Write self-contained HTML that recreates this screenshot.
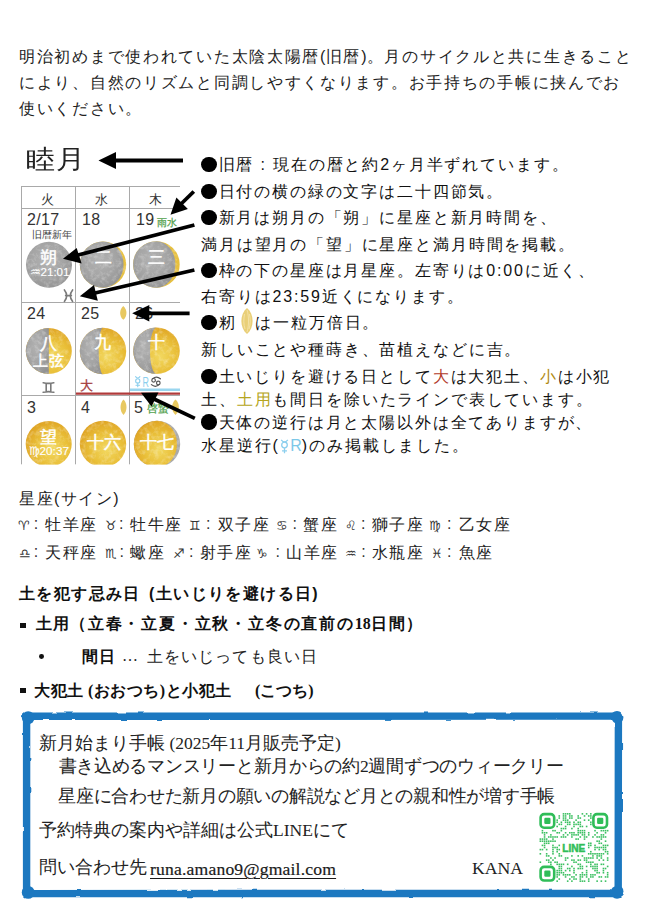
<!DOCTYPE html>
<html><head><meta charset="utf-8">
<style>
html,body{margin:0;padding:0;background:#fff;}
body{width:645px;height:917px;position:relative;overflow:hidden;font-family:"Liberation Sans",sans-serif;color:#222;}
.a{position:absolute;white-space:nowrap;}
.p{font-size:16px;letter-spacing:1.71px;color:#222;}
.r{font-size:16px;letter-spacing:1.85px;color:#111;}
.b{display:inline-block;width:15.5px;height:15.5px;border-radius:50%;background:#000;margin-right:2px;vertical-align:-2px;}
.cal{font-family:"Liberation Sans",sans-serif;}
.d{font-size:16px;letter-spacing:0.3px;color:#333;}
.mt{font-size:17px;color:#fff;-webkit-text-stroke:0.45px #fff;}
.zs{font-size:12.5px;color:#333;}
.zc{font-size:16px;color:#333;}
.zk{font-size:16px;letter-spacing:1.5px;color:#222;}
.hb{font-size:16px;font-weight:bold;color:#111;}
.sb{font-size:16px;font-weight:bold;color:#111;}
.serif{font-family:"Liberation Serif",serif;}
.z{font-family:"Liberation Sans",sans-serif;}
</style></head><body>

<!-- intro paragraph -->
<div class="a p" style="left:19px;top:47px;">明治初めまで使われていた太陰太陽暦<span style="letter-spacing:0.3px">(</span>旧暦<span style="letter-spacing:0.3px">)</span>。月のサイクルと共に生きること</div>
<div class="a p" style="left:19px;top:73px;">により、自然のリズムと同調しやすくなります。お手持ちの手帳に挟んでお</div>
<div class="a p" style="left:19px;top:99px;">使いください。</div>

<!-- calendar -->
<div class="a" style="left:26px;top:142px;font-size:26px;color:#222;transform:scaleX(1.12);transform-origin:0 0;">睦</div><div class="a" style="left:55.5px;top:142px;font-size:26px;color:#222;transform:scaleX(1.12);transform-origin:0 0;">月</div>

<svg class="a" style="left:0;top:0" width="645" height="917" viewBox="0 0 645 917">
  <defs>
    <radialGradient id="gm" cx="45%" cy="40%" r="65%">
      <stop offset="0" stop-color="#b2b2b2"/><stop offset="0.6" stop-color="#a3a3a3"/><stop offset="1" stop-color="#929292"/>
    </radialGradient>
    <radialGradient id="ym" cx="58%" cy="62%" r="70%">
      <stop offset="0" stop-color="#f2d860"/><stop offset="0.5" stop-color="#e9bf38"/><stop offset="1" stop-color="#dd9e20"/>
    </radialGradient>
    <filter id="tx" x="0" y="0" width="1" height="1">
      <feTurbulence type="fractalNoise" baseFrequency="0.22" numOctaves="3" seed="7" result="n"/>
      <feColorMatrix in="n" type="matrix" values="0 0 0 0 1  0 0 0 0 1  0 0 0 0 1  1.4 0 0 0 -0.62" result="w"/>
      <feComposite in="w" in2="SourceGraphic" operator="in"/>
    </filter>
    <clipPath id="call">
      <circle cx="49" cy="264.8" r="23"/><circle cx="103" cy="264.6" r="23.2"/><circle cx="156.4" cy="264.5" r="23.3"/>
      <circle cx="48.8" cy="351" r="23"/><circle cx="103" cy="351" r="23.2"/><circle cx="156.5" cy="350.8" r="23.3"/>
      <circle cx="48.7" cy="444" r="23"/><circle cx="103" cy="444" r="23.2"/><circle cx="157" cy="444" r="23.2"/>
    </clipPath>
  </defs>
  <!-- grid -->
  <g stroke="#a9a9a9" stroke-width="1" fill="none">
    <line x1="21.5" y1="186" x2="21.5" y2="464.5"/>
    <line x1="75.5" y1="186" x2="75.5" y2="464.5"/>
    <line x1="129.5" y1="186" x2="129.5" y2="464.5"/>
    <line x1="21" y1="186.5" x2="180" y2="186.5"/>
    <line x1="21" y1="208.5" x2="180" y2="208.5"/>
    <line x1="21" y1="302.5" x2="180" y2="302.5"/>
    <line x1="21" y1="395.5" x2="180" y2="395.5"/>
  </g>
  <!-- row 1 moons -->
  <circle cx="49" cy="264.8" r="23" fill="url(#gm)"/>
  <circle cx="103" cy="264.6" r="23.2" fill="#e6bf3e"/>
  <path d="M103 241.4 A23.2 23.2 0 0 0 103 287.8 A20.6 23.2 0 0 0 103 241.4 Z" fill="url(#gm)"/>
  <circle cx="156.4" cy="264.5" r="23.3" fill="#e6bf3e"/>
  <path d="M156.4 241.2 A23.3 23.3 0 0 0 156.4 287.8 A19 23.3 0 0 0 156.4 241.2 Z" fill="url(#gm)"/>
  <!-- row 2 moons -->
  <circle cx="48.8" cy="351" r="23" fill="url(#ym)"/>
  <path d="M48.8 328 A23 23 0 0 0 48.8 374 Z" fill="url(#gm)"/>
  <circle cx="103" cy="351" r="23.2" fill="url(#ym)"/>
  <path d="M103 327.8 A23.2 23.2 0 0 0 103 374.2 A4.3 23.2 0 0 1 103 327.8 Z" fill="url(#gm)"/>
  <circle cx="156.5" cy="350.8" r="23.3" fill="url(#ym)"/>
  <path d="M156.5 327.5 A23.3 23.3 0 0 0 156.5 374.1 A6.5 23.3 0 0 1 156.5 327.5 Z" fill="url(#gm)"/>
  <!-- row 3 moons -->
  <circle cx="48.7" cy="444" r="23" fill="url(#ym)"/>
  <circle cx="103" cy="444" r="23.2" fill="url(#ym)"/>
  <circle cx="157" cy="444" r="23.2" fill="#a9a9a9"/>
  <path d="M157 420.8 A23.2 23.2 0 0 0 157 467.2 A20 23.2 0 0 0 157 420.8 Z" fill="url(#ym)"/>
  <!-- texture -->
  <g filter="url(#tx)" opacity="0.5">
    <rect x="24" y="240" width="160" height="230" fill="#fff" clip-path="url(#call)"/>
  </g>
  <rect x="20" y="464.6" width="170" height="30" fill="#fff"/>
  <!-- seeds -->
  <path d="M123.3,305.9 C127.5,309.5 127.5,316.2 123.3,319.8 C119.1,316.2 119.1,309.5 123.3,305.9 Z" fill="#e8c860"/>
  <path d="M123.5,399.6 C127.5,403.5 127.5,411.1 123.5,415 C119.5,411.1 119.5,403.5 123.5,399.6 Z" fill="#e8c860"/>
  <path d="M175.5,399.6 C180,403.5 180,411.1 175.5,415 C171,411.1 171,403.5 175.5,399.6 Z" fill="#e8c860"/>
  <path d="M247,308 C254.5,314 254.5,328 247,334 C239.5,328 239.5,314 247,308 Z" fill="#e9cf78"/><path d="M247,310 C249,316 249,326 247,332 M244.5,314 C243.5,320 243.5,324 245,329 M249.5,314 C250.5,320 250.5,324 249,329" stroke="#f6e6b0" stroke-width="0.8" fill="none"/>

  <!-- small glyphs -->
  <g fill="none" stroke-linecap="round">
    <path d="M64.4 289.9 Q68.9 295.6 64.4 301.4 M72.6 289.9 Q68.1 295.6 72.6 301.4 M65.6 295.6 H71.4" stroke="#7a7a7a" stroke-width="1.6"/>
    <path d="M43.2 382.8 Q48.5 384 53.8 382.8 M43.2 392.2 Q48.5 391 53.8 392.2 M46.2 383.6 V391.4 M50.8 383.6 V391.4" stroke="#7a7a7a" stroke-width="1.6"/>
    <path d="M135.6 376.6 Q137.75 379.4 139.9 376.6 M137.75 383 V386.8 M136 385.2 H139.5" stroke="#8ccfee" stroke-width="1.1"/>
    <circle cx="137.75" cy="380.9" r="2.1" stroke="#8ccfee" stroke-width="1.1"/>
    <path d="M152.6 378.6 Q156.6 375.4 160.4 378.8 M151.4 384.6 Q155.4 388 159.4 384.4" stroke="#555" stroke-width="1.2"/>
    <circle cx="153.6" cy="380.3" r="1.8" stroke="#555" stroke-width="1.2"/>
    <circle cx="158.3" cy="383" r="1.8" stroke="#555" stroke-width="1.2"/>
  </g>
  <text x="142.4" y="386.8" font-family="Liberation Sans" font-size="14.5" fill="#8ccfee" textLength="6.4" lengthAdjust="spacingAndGlyphs">R</text>
  <text x="80.4" y="390" font-size="12.5" fill="#a33a3a" stroke="#a33a3a" stroke-width="0.3">大</text>
  <!-- lines -->
  <line x1="130" y1="389.8" x2="180" y2="389.8" stroke="#9ad6ef" stroke-width="2.4"/>
  <line x1="76" y1="393.7" x2="180" y2="393.7" stroke="#b03a3a" stroke-width="2.2"/>
</svg>

<!-- calendar text -->
<div class="a" style="left:41px;top:191px;font-size:13px;color:#333;">火</div>
<div class="a" style="left:95px;top:191px;font-size:13px;color:#333;">水</div>
<div class="a" style="left:149px;top:191px;font-size:13px;color:#333;">木</div>
<div class="a d" style="left:27px;top:211px;">2/17</div>
<div class="a d" style="left:82px;top:211px;">18</div>
<div class="a d" style="left:136px;top:211px;">19</div>
<div class="a" style="left:157px;top:215.5px;font-size:10px;letter-spacing:0.3px;color:#4f9e4a;-webkit-text-stroke:0.25px #4f9e4a;">雨水</div>
<div class="a" style="left:32px;top:229px;font-size:9.5px;color:#444;">旧暦新年</div>
<div class="a mt" style="left:40px;top:246px;">朔</div>
<div class="a" style="left:29.5px;top:264.5px;font-size:11.6px;color:#fff;-webkit-text-stroke:0.1px #fff;">♒︎21:01</div>
<div class="a mt" style="left:95px;top:245.5px;">二</div>
<div class="a mt" style="left:148px;top:245.5px;">三</div>


<div class="a d" style="left:27px;top:305px;">24</div>
<div class="a d" style="left:81px;top:305px;">25</div>
<div class="a d" style="left:135px;top:305px;">26</div>
<div class="a mt" style="left:40px;top:331.5px;">八</div>
<div class="a mt" style="left:33px;top:352px;font-size:14.5px;letter-spacing:0.6px;">上弦</div>
<div class="a mt" style="left:94px;top:331px;">九</div>
<div class="a mt" style="left:148px;top:331px;">十</div>





<div class="a d" style="left:27px;top:399px;">3</div>
<div class="a d" style="left:81px;top:399px;">4</div>
<div class="a d" style="left:134px;top:399px;">5</div>
<div class="a" style="left:147px;top:402px;font-size:10.5px;color:#4f9e4a;-webkit-text-stroke:0.25px #4f9e4a;">啓蟄</div>
<div class="a mt" style="left:40px;top:425.5px;">望</div>
<div class="a" style="left:28.5px;top:443.5px;font-size:11.8px;color:#fff;-webkit-text-stroke:0.1px #fff;">♍︎20:37</div>
<div class="a mt" style="left:87px;top:430.5px;">十六</div>
<div class="a mt" style="left:140px;top:430.5px;">十七</div>

<!-- arrows -->
<svg class="a" style="left:0;top:0" width="645" height="917" viewBox="0 0 645 917">
  <g fill="#000" stroke="#000">
    <line x1="183" y1="160.5" x2="114" y2="160.5" stroke-width="3.8"/>
    <polygon points="98.5,160.5 116,152 116,169" stroke="none"/>
    <line x1="193.8" y1="191.5" x2="180" y2="205" stroke-width="3.8"/>
    <polygon points="170.5,214.7 176.4,197.4 187.9,209.1" stroke="none"/>
    <line x1="194.4" y1="225" x2="78" y2="255" stroke-width="3.8"/>
    <polygon points="63,258.7 76.7,248 81.6,263.5" stroke="none"/>
    <line x1="194.4" y1="270" x2="95" y2="293" stroke-width="3.8"/>
    <polygon points="79.8,296.3 94,285 97.8,300.7" stroke="none"/>
    <line x1="189.6" y1="313.3" x2="148" y2="313.3" stroke-width="3.8"/>
    <polygon points="132.2,313.3 149.3,305 149.3,321.4" stroke="none"/>
    <line x1="194.8" y1="418.4" x2="153" y2="398.5" stroke-width="3.8"/>
    <polygon points="141,392.8 158.5,392.5 151.5,406.5" stroke="none"/>
  </g>
</svg>

<!-- right text -->
<div class="a r" style="left:201px;top:155px;"><i class="b"></i>旧暦 : 現在の暦と約2ヶ月半ずれています。</div>
<div class="a r" style="left:201px;top:182px;"><i class="b"></i>日付の横の緑の文字は二十四節気。</div>
<div class="a r" style="left:201px;top:208px;"><i class="b"></i>新月は朔月の「朔」に星座と新月時間を、</div>
<div class="a r" style="left:201px;top:234.5px;">満月は望月の「望」に星座と満月時間を掲載。</div>
<div class="a r" style="left:201px;top:261px;"><i class="b"></i>枠の下の星座は月星座。左寄りは0:00に近く、</div>
<div class="a r" style="left:201px;top:287.3px;">右寄りは23:59近くになります。</div>
<div class="a r" style="left:201px;top:313.3px;"><i class="b"></i>籾<span style="display:inline-block;width:19px"></span>は一粒万倍日。</div>
<div class="a r" style="left:201px;top:340px;">新しいことや種蒔き、苗植えなどに吉。</div>
<div class="a r" style="left:201px;top:367.3px;"><i class="b"></i>土いじりを避ける日として<span style="color:#b23a2a">大</span>は大犯土、<span style="color:#b08a10">小</span>は小犯</div>
<div class="a r" style="left:201px;top:389.8px;">土、<span style="color:#b5a520">土用</span>も間日を除いたラインで表しています。</div>
<div class="a r" style="left:201px;top:412.8px;"><i class="b"></i>天体の逆行は月と太陽以外は全てありますが、</div>
<div class="a r" style="left:201px;top:435.7px;">水星逆行<span style="letter-spacing:0">(<svg width="11" height="15" viewBox="0 0 11 15" style="vertical-align:-3.5px;margin:0 0.5px 0 1px"><g fill="none" stroke="#8ccfee" stroke-width="1.3"><path d="M2.2 0.8 Q5.5 5 8.8 0.8 M5.5 9 V14.2 M3 11.8 H8"/><circle cx="5.5" cy="6" r="2.8"/></g></svg><span style="color:#7cc8e8">R</span>)</span><span style="margin-left:2px">のみ掲載しました。</span></div>

<!-- zodiac -->
<div class="a" style="left:19px;top:489px;font-size:16px;letter-spacing:1.5px;color:#222;">星座(サイン)</div>
<div class="a zs" style="left:18.1px;top:518px;">♈&#xFE0E;</div><div class="a zc" style="left:33.7px;top:515px;">:</div><div class="a zk" style="left:45.3px;top:515px;">牡羊座</div>
<div class="a zs" style="left:104.8px;top:518px;">♉&#xFE0E;</div><div class="a zc" style="left:119.0px;top:515px;">:</div><div class="a zk" style="left:130px;top:515px;">牡牛座</div>
<div class="a zs" style="left:189.4px;top:518px;">♊&#xFE0E;</div><div class="a zc" style="left:206.0px;top:515px;">:</div><div class="a zk" style="left:217.6px;top:515px;">双子座</div>
<div class="a zs" style="left:276.1px;top:518px;">♋&#xFE0E;</div><div class="a zc" style="left:292.4px;top:515px;">:</div><div class="a zk" style="left:303.3px;top:515px;">蟹座</div>
<div class="a zs" style="left:344.7px;top:518px;">♌&#xFE0E;</div><div class="a zc" style="left:360.9px;top:515px;">:</div><div class="a zk" style="left:371.9px;top:515px;">獅子座</div>
<div class="a zs" style="left:429.3px;top:518px;">♍&#xFE0E;</div><div class="a zc" style="left:447.0px;top:515px;">:</div><div class="a zk" style="left:458.5px;top:515px;">乙女座</div>
<div class="a zs" style="left:19.1px;top:546px;">♎&#xFE0E;</div><div class="a zc" style="left:33.7px;top:543px;">:</div><div class="a zk" style="left:45.3px;top:543px;">天秤座</div>
<div class="a zs" style="left:104.8px;top:546px;">♏&#xFE0E;</div><div class="a zc" style="left:119.4px;top:543px;">:</div><div class="a zk" style="left:130px;top:543px;">蠍座</div>
<div class="a zs" style="left:173.3px;top:546px;">♐&#xFE0E;</div><div class="a zc" style="left:188.9px;top:543px;">:</div><div class="a zk" style="left:199.5px;top:543px;">射手座</div>
<div class="a zs" style="left:255.9px;top:546px;">♑&#xFE0E;</div><div class="a zc" style="left:275.6px;top:543px;">:</div><div class="a zk" style="left:286.2px;top:543px;">山羊座</div>
<div class="a zs" style="left:344.7px;top:546px;">♒&#xFE0E;</div><div class="a zc" style="left:361.3px;top:543px;">:</div><div class="a zk" style="left:371.9px;top:543px;">水瓶座</div>
<div class="a zs" style="left:431.3px;top:546px;">♓&#xFE0E;</div><div class="a zc" style="left:447.0px;top:543px;">:</div><div class="a zk" style="left:458.5px;top:543px;">魚座</div>

<!-- rules -->
<div class="a hb" style="left:19px;top:584px;letter-spacing:1.4px;">土を犯す忌み日</div>
<div class="a hb" style="left:149px;top:584px;letter-spacing:1.4px;">(土いじりを避ける日)</div>
<div class="a" style="left:20px;top:622.5px;width:5.5px;height:5.5px;background:#111;"></div>
<div class="a serif sb" style="left:36px;top:614px;letter-spacing:0.5px;">土用</div>
<div class="a serif sb" style="left:70px;top:614px;letter-spacing:1.8px;">（立春・立夏・立秋・立冬の直前の<span style="letter-spacing:0">18</span>日間）</div>
<div class="a" style="left:39.4px;top:654.4px;width:4.8px;height:4.8px;border-radius:50%;background:#111;"></div>
<div class="a serif sb" style="left:82px;top:647px;letter-spacing:0.5px;">間日</div>
<div class="a serif" style="left:122px;top:647px;font-size:16px;color:#222;letter-spacing:0.5px;">…</div>
<div class="a serif" style="left:147px;top:647px;font-size:16px;color:#222;letter-spacing:1.1px;">土をいじっても良い日</div>
<div class="a" style="left:20px;top:687.5px;width:5.5px;height:5.5px;background:#111;"></div>
<div class="a serif sb" style="left:34px;top:681px;letter-spacing:0.5px;">大犯土 (おおつち)と小犯土</div>
<div class="a serif sb" style="left:255px;top:681px;">(こつち)</div>

<!-- box -->
<svg class="a" style="left:0;top:0" width="645" height="917" viewBox="0 0 645 917">
  <defs>
    <filter id="rough" x="-5%" y="-5%" width="110%" height="110%">
      <feTurbulence type="fractalNoise" baseFrequency="0.06" numOctaves="2" seed="4" result="t"/>
      <feDisplacementMap in="SourceGraphic" in2="t" scale="2.4" xChannelSelector="R" yChannelSelector="G"/>
    </filter>
  </defs>
  <g filter="url(#rough)" fill="#1b78c0">
    <path d="M26.6 716.3 L618.4 716.1 L618.2 893.5 L26.6 893.6 Z" fill="none" stroke="#1b78c0" stroke-width="7.4" stroke-linejoin="round"/>
    <circle cx="28.2" cy="717.6" r="6.4"/><circle cx="617" cy="717.4" r="6.4"/><circle cx="617" cy="892.3" r="6.4"/><circle cx="28.2" cy="892.4" r="6.4"/>
  </g>
</svg>
<div class="a serif" style="left:39px;top:731px;font-size:17.5px;color:#222;">新月始まり手帳 (2025年11月販売予定)</div>
<div class="a serif" style="left:58.5px;top:754px;font-size:17.5px;letter-spacing:-0.27px;color:#222;">書き込めるマンスリーと新月からの約2週間ずつのウィークリー</div>
<div class="a serif" style="left:58px;top:784px;font-size:17.5px;letter-spacing:-0.25px;color:#222;">星座に合わせた新月の願いの解説など月との親和性が増す手帳</div>
<div class="a serif" style="left:39px;top:818px;font-size:17.5px;color:#222;">予約特典の案内や詳細は公式LINEにて</div>
<div class="a serif" style="left:39px;top:855px;font-size:17.5px;color:#222;">問い合わせ先</div><div class="a serif" style="left:150px;top:858.5px;font-size:17.6px;letter-spacing:0.18px;color:#1a1a1a;text-decoration:underline;text-decoration-thickness:1.4px;text-underline-offset:2.5px;-webkit-text-stroke:0.2px #1a1a1a;">runa.amano9@gmail.com</div>
<div class="a serif" style="left:472px;top:857.5px;font-size:17.7px;color:#222;">KANA</div>
<!-- QR placeholder -->
<svg class="a" style="left:0;top:0" width="645" height="917" viewBox="0 0 645 917">
  <g fill="#3cc062"><rect x="562.68" y="813.05" width="1.6" height="1.6"/><rect x="564.79" y="813.05" width="1.6" height="1.6"/><rect x="566.89" y="813.05" width="1.6" height="1.6"/><rect x="568.99" y="813.05" width="1.6" height="1.6"/><rect x="581.61" y="813.05" width="1.6" height="1.6"/><rect x="585.82" y="813.05" width="1.6" height="1.6"/><rect x="590.02" y="813.05" width="1.6" height="1.6"/><rect x="558.48" y="815.15" width="1.6" height="1.6"/><rect x="562.68" y="815.15" width="1.6" height="1.6"/><rect x="564.79" y="815.15" width="1.6" height="1.6"/><rect x="568.99" y="815.15" width="1.6" height="1.6"/><rect x="571.10" y="815.15" width="1.6" height="1.6"/><rect x="577.41" y="815.15" width="1.6" height="1.6"/><rect x="583.72" y="815.15" width="1.6" height="1.6"/><rect x="587.92" y="815.15" width="1.6" height="1.6"/><rect x="590.02" y="815.15" width="1.6" height="1.6"/><rect x="558.48" y="817.26" width="1.6" height="1.6"/><rect x="562.68" y="817.26" width="1.6" height="1.6"/><rect x="564.79" y="817.26" width="1.6" height="1.6"/><rect x="568.99" y="817.26" width="1.6" height="1.6"/><rect x="571.10" y="817.26" width="1.6" height="1.6"/><rect x="577.41" y="817.26" width="1.6" height="1.6"/><rect x="579.51" y="817.26" width="1.6" height="1.6"/><rect x="590.02" y="817.26" width="1.6" height="1.6"/><rect x="556.38" y="819.36" width="1.6" height="1.6"/><rect x="562.68" y="819.36" width="1.6" height="1.6"/><rect x="564.79" y="819.36" width="1.6" height="1.6"/><rect x="566.89" y="819.36" width="1.6" height="1.6"/><rect x="575.30" y="819.36" width="1.6" height="1.6"/><rect x="583.72" y="819.36" width="1.6" height="1.6"/><rect x="587.92" y="819.36" width="1.6" height="1.6"/><rect x="556.38" y="821.46" width="1.6" height="1.6"/><rect x="560.58" y="821.46" width="1.6" height="1.6"/><rect x="564.79" y="821.46" width="1.6" height="1.6"/><rect x="566.89" y="821.46" width="1.6" height="1.6"/><rect x="568.99" y="821.46" width="1.6" height="1.6"/><rect x="573.20" y="821.46" width="1.6" height="1.6"/><rect x="577.41" y="821.46" width="1.6" height="1.6"/><rect x="579.51" y="821.46" width="1.6" height="1.6"/><rect x="590.02" y="821.46" width="1.6" height="1.6"/><rect x="558.48" y="823.57" width="1.6" height="1.6"/><rect x="560.58" y="823.57" width="1.6" height="1.6"/><rect x="566.89" y="823.57" width="1.6" height="1.6"/><rect x="568.99" y="823.57" width="1.6" height="1.6"/><rect x="573.20" y="823.57" width="1.6" height="1.6"/><rect x="575.30" y="823.57" width="1.6" height="1.6"/><rect x="577.41" y="823.57" width="1.6" height="1.6"/><rect x="579.51" y="823.57" width="1.6" height="1.6"/><rect x="590.02" y="823.57" width="1.6" height="1.6"/><rect x="556.38" y="825.67" width="1.6" height="1.6"/><rect x="564.79" y="825.67" width="1.6" height="1.6"/><rect x="573.20" y="825.67" width="1.6" height="1.6"/><rect x="579.51" y="825.67" width="1.6" height="1.6"/><rect x="581.61" y="825.67" width="1.6" height="1.6"/><rect x="585.82" y="825.67" width="1.6" height="1.6"/><rect x="560.58" y="827.77" width="1.6" height="1.6"/><rect x="562.68" y="827.77" width="1.6" height="1.6"/><rect x="564.79" y="827.77" width="1.6" height="1.6"/><rect x="571.10" y="827.77" width="1.6" height="1.6"/><rect x="577.41" y="827.77" width="1.6" height="1.6"/><rect x="541.65" y="829.88" width="1.6" height="1.6"/><rect x="552.17" y="829.88" width="1.6" height="1.6"/><rect x="554.27" y="829.88" width="1.6" height="1.6"/><rect x="560.58" y="829.88" width="1.6" height="1.6"/><rect x="577.41" y="829.88" width="1.6" height="1.6"/><rect x="579.51" y="829.88" width="1.6" height="1.6"/><rect x="581.61" y="829.88" width="1.6" height="1.6"/><rect x="583.72" y="829.88" width="1.6" height="1.6"/><rect x="594.23" y="829.88" width="1.6" height="1.6"/><rect x="600.54" y="829.88" width="1.6" height="1.6"/><rect x="602.64" y="829.88" width="1.6" height="1.6"/><rect x="604.75" y="829.88" width="1.6" height="1.6"/><rect x="606.85" y="829.88" width="1.6" height="1.6"/><rect x="541.65" y="831.98" width="1.6" height="1.6"/><rect x="543.76" y="831.98" width="1.6" height="1.6"/><rect x="545.86" y="831.98" width="1.6" height="1.6"/><rect x="556.38" y="831.98" width="1.6" height="1.6"/><rect x="558.48" y="831.98" width="1.6" height="1.6"/><rect x="564.79" y="831.98" width="1.6" height="1.6"/><rect x="568.99" y="831.98" width="1.6" height="1.6"/><rect x="571.10" y="831.98" width="1.6" height="1.6"/><rect x="573.20" y="831.98" width="1.6" height="1.6"/><rect x="577.41" y="831.98" width="1.6" height="1.6"/><rect x="579.51" y="831.98" width="1.6" height="1.6"/><rect x="581.61" y="831.98" width="1.6" height="1.6"/><rect x="583.72" y="831.98" width="1.6" height="1.6"/><rect x="587.92" y="831.98" width="1.6" height="1.6"/><rect x="596.33" y="831.98" width="1.6" height="1.6"/><rect x="604.75" y="831.98" width="1.6" height="1.6"/><rect x="543.76" y="834.08" width="1.6" height="1.6"/><rect x="550.07" y="834.08" width="1.6" height="1.6"/><rect x="562.68" y="834.08" width="1.6" height="1.6"/><rect x="566.89" y="834.08" width="1.6" height="1.6"/><rect x="571.10" y="834.08" width="1.6" height="1.6"/><rect x="573.20" y="834.08" width="1.6" height="1.6"/><rect x="575.30" y="834.08" width="1.6" height="1.6"/><rect x="577.41" y="834.08" width="1.6" height="1.6"/><rect x="581.61" y="834.08" width="1.6" height="1.6"/><rect x="583.72" y="834.08" width="1.6" height="1.6"/><rect x="587.92" y="834.08" width="1.6" height="1.6"/><rect x="594.23" y="834.08" width="1.6" height="1.6"/><rect x="600.54" y="834.08" width="1.6" height="1.6"/><rect x="602.64" y="834.08" width="1.6" height="1.6"/><rect x="543.76" y="836.18" width="1.6" height="1.6"/><rect x="547.96" y="836.18" width="1.6" height="1.6"/><rect x="550.07" y="836.18" width="1.6" height="1.6"/><rect x="552.17" y="836.18" width="1.6" height="1.6"/><rect x="554.27" y="836.18" width="1.6" height="1.6"/><rect x="556.38" y="836.18" width="1.6" height="1.6"/><rect x="560.58" y="836.18" width="1.6" height="1.6"/><rect x="562.68" y="836.18" width="1.6" height="1.6"/><rect x="564.79" y="836.18" width="1.6" height="1.6"/><rect x="571.10" y="836.18" width="1.6" height="1.6"/><rect x="579.51" y="836.18" width="1.6" height="1.6"/><rect x="583.72" y="836.18" width="1.6" height="1.6"/><rect x="585.82" y="836.18" width="1.6" height="1.6"/><rect x="592.13" y="836.18" width="1.6" height="1.6"/><rect x="596.33" y="836.18" width="1.6" height="1.6"/><rect x="598.44" y="836.18" width="1.6" height="1.6"/><rect x="600.54" y="836.18" width="1.6" height="1.6"/><rect x="602.64" y="836.18" width="1.6" height="1.6"/><rect x="604.75" y="836.18" width="1.6" height="1.6"/><rect x="539.55" y="838.29" width="1.6" height="1.6"/><rect x="541.65" y="838.29" width="1.6" height="1.6"/><rect x="543.76" y="838.29" width="1.6" height="1.6"/><rect x="545.86" y="838.29" width="1.6" height="1.6"/><rect x="552.17" y="838.29" width="1.6" height="1.6"/><rect x="575.30" y="838.29" width="1.6" height="1.6"/><rect x="577.41" y="838.29" width="1.6" height="1.6"/><rect x="583.72" y="838.29" width="1.6" height="1.6"/><rect x="600.54" y="838.29" width="1.6" height="1.6"/><rect x="539.55" y="840.39" width="1.6" height="1.6"/><rect x="541.65" y="840.39" width="1.6" height="1.6"/><rect x="543.76" y="840.39" width="1.6" height="1.6"/><rect x="545.86" y="840.39" width="1.6" height="1.6"/><rect x="547.96" y="840.39" width="1.6" height="1.6"/><rect x="550.07" y="840.39" width="1.6" height="1.6"/><rect x="552.17" y="840.39" width="1.6" height="1.6"/><rect x="554.27" y="840.39" width="1.6" height="1.6"/><rect x="596.33" y="840.39" width="1.6" height="1.6"/><rect x="598.44" y="840.39" width="1.6" height="1.6"/><rect x="604.75" y="840.39" width="1.6" height="1.6"/><rect x="543.76" y="842.49" width="1.6" height="1.6"/><rect x="545.86" y="842.49" width="1.6" height="1.6"/><rect x="547.96" y="842.49" width="1.6" height="1.6"/><rect x="587.92" y="842.49" width="1.6" height="1.6"/><rect x="590.02" y="842.49" width="1.6" height="1.6"/><rect x="598.44" y="842.49" width="1.6" height="1.6"/><rect x="600.54" y="842.49" width="1.6" height="1.6"/><rect x="541.65" y="844.60" width="1.6" height="1.6"/><rect x="543.76" y="844.60" width="1.6" height="1.6"/><rect x="552.17" y="844.60" width="1.6" height="1.6"/><rect x="558.48" y="844.60" width="1.6" height="1.6"/><rect x="587.92" y="844.60" width="1.6" height="1.6"/><rect x="590.02" y="844.60" width="1.6" height="1.6"/><rect x="594.23" y="844.60" width="1.6" height="1.6"/><rect x="602.64" y="844.60" width="1.6" height="1.6"/><rect x="604.75" y="844.60" width="1.6" height="1.6"/><rect x="606.85" y="844.60" width="1.6" height="1.6"/><rect x="543.76" y="846.70" width="1.6" height="1.6"/><rect x="552.17" y="846.70" width="1.6" height="1.6"/><rect x="554.27" y="846.70" width="1.6" height="1.6"/><rect x="556.38" y="846.70" width="1.6" height="1.6"/><rect x="587.92" y="846.70" width="1.6" height="1.6"/><rect x="594.23" y="846.70" width="1.6" height="1.6"/><rect x="596.33" y="846.70" width="1.6" height="1.6"/><rect x="598.44" y="846.70" width="1.6" height="1.6"/><rect x="600.54" y="846.70" width="1.6" height="1.6"/><rect x="602.64" y="846.70" width="1.6" height="1.6"/><rect x="604.75" y="846.70" width="1.6" height="1.6"/><rect x="539.55" y="848.80" width="1.6" height="1.6"/><rect x="541.65" y="848.80" width="1.6" height="1.6"/><rect x="545.86" y="848.80" width="1.6" height="1.6"/><rect x="552.17" y="848.80" width="1.6" height="1.6"/><rect x="556.38" y="848.80" width="1.6" height="1.6"/><rect x="558.48" y="848.80" width="1.6" height="1.6"/><rect x="594.23" y="848.80" width="1.6" height="1.6"/><rect x="598.44" y="848.80" width="1.6" height="1.6"/><rect x="602.64" y="848.80" width="1.6" height="1.6"/><rect x="604.75" y="848.80" width="1.6" height="1.6"/><rect x="552.17" y="850.91" width="1.6" height="1.6"/><rect x="556.38" y="850.91" width="1.6" height="1.6"/><rect x="590.02" y="850.91" width="1.6" height="1.6"/><rect x="604.75" y="850.91" width="1.6" height="1.6"/><rect x="606.85" y="850.91" width="1.6" height="1.6"/><rect x="539.55" y="853.01" width="1.6" height="1.6"/><rect x="545.86" y="853.01" width="1.6" height="1.6"/><rect x="552.17" y="853.01" width="1.6" height="1.6"/><rect x="558.48" y="853.01" width="1.6" height="1.6"/><rect x="587.92" y="853.01" width="1.6" height="1.6"/><rect x="590.02" y="853.01" width="1.6" height="1.6"/><rect x="592.13" y="853.01" width="1.6" height="1.6"/><rect x="594.23" y="853.01" width="1.6" height="1.6"/><rect x="596.33" y="853.01" width="1.6" height="1.6"/><rect x="598.44" y="853.01" width="1.6" height="1.6"/><rect x="600.54" y="853.01" width="1.6" height="1.6"/><rect x="602.64" y="853.01" width="1.6" height="1.6"/><rect x="606.85" y="853.01" width="1.6" height="1.6"/><rect x="545.86" y="855.11" width="1.6" height="1.6"/><rect x="547.96" y="855.11" width="1.6" height="1.6"/><rect x="558.48" y="855.11" width="1.6" height="1.6"/><rect x="560.58" y="855.11" width="1.6" height="1.6"/><rect x="571.10" y="855.11" width="1.6" height="1.6"/><rect x="577.41" y="855.11" width="1.6" height="1.6"/><rect x="581.61" y="855.11" width="1.6" height="1.6"/><rect x="592.13" y="855.11" width="1.6" height="1.6"/><rect x="596.33" y="855.11" width="1.6" height="1.6"/><rect x="598.44" y="855.11" width="1.6" height="1.6"/><rect x="600.54" y="855.11" width="1.6" height="1.6"/><rect x="550.07" y="857.22" width="1.6" height="1.6"/><rect x="554.27" y="857.22" width="1.6" height="1.6"/><rect x="564.79" y="857.22" width="1.6" height="1.6"/><rect x="566.89" y="857.22" width="1.6" height="1.6"/><rect x="583.72" y="857.22" width="1.6" height="1.6"/><rect x="585.82" y="857.22" width="1.6" height="1.6"/><rect x="587.92" y="857.22" width="1.6" height="1.6"/><rect x="590.02" y="857.22" width="1.6" height="1.6"/><rect x="592.13" y="857.22" width="1.6" height="1.6"/><rect x="596.33" y="857.22" width="1.6" height="1.6"/><rect x="600.54" y="857.22" width="1.6" height="1.6"/><rect x="606.85" y="857.22" width="1.6" height="1.6"/><rect x="545.86" y="859.32" width="1.6" height="1.6"/><rect x="547.96" y="859.32" width="1.6" height="1.6"/><rect x="552.17" y="859.32" width="1.6" height="1.6"/><rect x="564.79" y="859.32" width="1.6" height="1.6"/><rect x="571.10" y="859.32" width="1.6" height="1.6"/><rect x="573.20" y="859.32" width="1.6" height="1.6"/><rect x="577.41" y="859.32" width="1.6" height="1.6"/><rect x="579.51" y="859.32" width="1.6" height="1.6"/><rect x="583.72" y="859.32" width="1.6" height="1.6"/><rect x="585.82" y="859.32" width="1.6" height="1.6"/><rect x="598.44" y="859.32" width="1.6" height="1.6"/><rect x="602.64" y="859.32" width="1.6" height="1.6"/><rect x="606.85" y="859.32" width="1.6" height="1.6"/><rect x="539.55" y="861.42" width="1.6" height="1.6"/><rect x="547.96" y="861.42" width="1.6" height="1.6"/><rect x="550.07" y="861.42" width="1.6" height="1.6"/><rect x="554.27" y="861.42" width="1.6" height="1.6"/><rect x="556.38" y="861.42" width="1.6" height="1.6"/><rect x="573.20" y="861.42" width="1.6" height="1.6"/><rect x="575.30" y="861.42" width="1.6" height="1.6"/><rect x="585.82" y="861.42" width="1.6" height="1.6"/><rect x="587.92" y="861.42" width="1.6" height="1.6"/><rect x="590.02" y="861.42" width="1.6" height="1.6"/><rect x="592.13" y="861.42" width="1.6" height="1.6"/><rect x="550.07" y="863.52" width="1.6" height="1.6"/><rect x="556.38" y="863.52" width="1.6" height="1.6"/><rect x="558.48" y="863.52" width="1.6" height="1.6"/><rect x="560.58" y="863.52" width="1.6" height="1.6"/><rect x="562.68" y="863.52" width="1.6" height="1.6"/><rect x="566.89" y="863.52" width="1.6" height="1.6"/><rect x="577.41" y="863.52" width="1.6" height="1.6"/><rect x="579.51" y="863.52" width="1.6" height="1.6"/><rect x="590.02" y="863.52" width="1.6" height="1.6"/><rect x="594.23" y="863.52" width="1.6" height="1.6"/><rect x="596.33" y="863.52" width="1.6" height="1.6"/><rect x="600.54" y="863.52" width="1.6" height="1.6"/><rect x="602.64" y="863.52" width="1.6" height="1.6"/><rect x="558.48" y="865.63" width="1.6" height="1.6"/><rect x="560.58" y="865.63" width="1.6" height="1.6"/><rect x="571.10" y="865.63" width="1.6" height="1.6"/><rect x="579.51" y="865.63" width="1.6" height="1.6"/><rect x="581.61" y="865.63" width="1.6" height="1.6"/><rect x="585.82" y="865.63" width="1.6" height="1.6"/><rect x="590.02" y="865.63" width="1.6" height="1.6"/><rect x="592.13" y="865.63" width="1.6" height="1.6"/><rect x="594.23" y="865.63" width="1.6" height="1.6"/><rect x="596.33" y="865.63" width="1.6" height="1.6"/><rect x="606.85" y="865.63" width="1.6" height="1.6"/><rect x="558.48" y="867.73" width="1.6" height="1.6"/><rect x="560.58" y="867.73" width="1.6" height="1.6"/><rect x="566.89" y="867.73" width="1.6" height="1.6"/><rect x="568.99" y="867.73" width="1.6" height="1.6"/><rect x="573.20" y="867.73" width="1.6" height="1.6"/><rect x="577.41" y="867.73" width="1.6" height="1.6"/><rect x="579.51" y="867.73" width="1.6" height="1.6"/><rect x="581.61" y="867.73" width="1.6" height="1.6"/><rect x="592.13" y="867.73" width="1.6" height="1.6"/><rect x="594.23" y="867.73" width="1.6" height="1.6"/><rect x="596.33" y="867.73" width="1.6" height="1.6"/><rect x="602.64" y="867.73" width="1.6" height="1.6"/><rect x="604.75" y="867.73" width="1.6" height="1.6"/><rect x="556.38" y="869.83" width="1.6" height="1.6"/><rect x="558.48" y="869.83" width="1.6" height="1.6"/><rect x="560.58" y="869.83" width="1.6" height="1.6"/><rect x="564.79" y="869.83" width="1.6" height="1.6"/><rect x="568.99" y="869.83" width="1.6" height="1.6"/><rect x="573.20" y="869.83" width="1.6" height="1.6"/><rect x="585.82" y="869.83" width="1.6" height="1.6"/><rect x="594.23" y="869.83" width="1.6" height="1.6"/><rect x="596.33" y="869.83" width="1.6" height="1.6"/><rect x="602.64" y="869.83" width="1.6" height="1.6"/><rect x="556.38" y="871.94" width="1.6" height="1.6"/><rect x="558.48" y="871.94" width="1.6" height="1.6"/><rect x="560.58" y="871.94" width="1.6" height="1.6"/><rect x="562.68" y="871.94" width="1.6" height="1.6"/><rect x="573.20" y="871.94" width="1.6" height="1.6"/><rect x="581.61" y="871.94" width="1.6" height="1.6"/><rect x="585.82" y="871.94" width="1.6" height="1.6"/><rect x="596.33" y="871.94" width="1.6" height="1.6"/><rect x="598.44" y="871.94" width="1.6" height="1.6"/><rect x="602.64" y="871.94" width="1.6" height="1.6"/><rect x="606.85" y="871.94" width="1.6" height="1.6"/><rect x="556.38" y="874.04" width="1.6" height="1.6"/><rect x="558.48" y="874.04" width="1.6" height="1.6"/><rect x="562.68" y="874.04" width="1.6" height="1.6"/><rect x="564.79" y="874.04" width="1.6" height="1.6"/><rect x="566.89" y="874.04" width="1.6" height="1.6"/><rect x="568.99" y="874.04" width="1.6" height="1.6"/><rect x="575.30" y="874.04" width="1.6" height="1.6"/><rect x="579.51" y="874.04" width="1.6" height="1.6"/><rect x="581.61" y="874.04" width="1.6" height="1.6"/><rect x="583.72" y="874.04" width="1.6" height="1.6"/><rect x="585.82" y="874.04" width="1.6" height="1.6"/><rect x="590.02" y="874.04" width="1.6" height="1.6"/><rect x="592.13" y="874.04" width="1.6" height="1.6"/><rect x="594.23" y="874.04" width="1.6" height="1.6"/><rect x="606.85" y="874.04" width="1.6" height="1.6"/><rect x="556.38" y="876.14" width="1.6" height="1.6"/><rect x="564.79" y="876.14" width="1.6" height="1.6"/><rect x="571.10" y="876.14" width="1.6" height="1.6"/><rect x="573.20" y="876.14" width="1.6" height="1.6"/><rect x="579.51" y="876.14" width="1.6" height="1.6"/><rect x="581.61" y="876.14" width="1.6" height="1.6"/><rect x="585.82" y="876.14" width="1.6" height="1.6"/><rect x="590.02" y="876.14" width="1.6" height="1.6"/><rect x="592.13" y="876.14" width="1.6" height="1.6"/><rect x="598.44" y="876.14" width="1.6" height="1.6"/><rect x="600.54" y="876.14" width="1.6" height="1.6"/><rect x="604.75" y="876.14" width="1.6" height="1.6"/><rect x="606.85" y="876.14" width="1.6" height="1.6"/><rect x="558.48" y="878.25" width="1.6" height="1.6"/><rect x="568.99" y="878.25" width="1.6" height="1.6"/><rect x="573.20" y="878.25" width="1.6" height="1.6"/><rect x="575.30" y="878.25" width="1.6" height="1.6"/><rect x="579.51" y="878.25" width="1.6" height="1.6"/><rect x="587.92" y="878.25" width="1.6" height="1.6"/><rect x="556.38" y="880.35" width="1.6" height="1.6"/><rect x="566.89" y="880.35" width="1.6" height="1.6"/><rect x="571.10" y="880.35" width="1.6" height="1.6"/><rect x="579.51" y="880.35" width="1.6" height="1.6"/><rect x="581.61" y="880.35" width="1.6" height="1.6"/><rect x="583.72" y="880.35" width="1.6" height="1.6"/><rect x="587.92" y="880.35" width="1.6" height="1.6"/><rect x="596.33" y="880.35" width="1.6" height="1.6"/><rect x="600.54" y="880.35" width="1.6" height="1.6"/><rect x="604.75" y="880.35" width="1.6" height="1.6"/></g>
  <g fill="none" stroke="#2fbd58" stroke-width="2.6">
    <rect x="540.6" y="814.1" width="13.6" height="13.6" rx="3.5"/>
    <rect x="593.4" y="814.1" width="13.6" height="13.6" rx="3.5"/>
    <rect x="540.6" y="866.9" width="13.6" height="13.6" rx="3.5"/>
  </g>
  <g fill="#2fbd58">
    <rect x="544.3" y="817.8" width="6.2" height="6.2" rx="1.2"/>
    <rect x="597.1" y="817.8" width="6.2" height="6.2" rx="1.2"/>
    <rect x="544.3" y="870.6" width="6.2" height="6.2" rx="1.2"/>
  </g>
  <text x="573.8" y="852.2" text-anchor="middle" font-family="Liberation Sans" font-weight="bold" font-size="10.2" fill="#2fbd58" stroke="#2fbd58" stroke-width="0.5" textLength="23" lengthAdjust="spacingAndGlyphs">LINE</text>
</svg>

</body></html>
